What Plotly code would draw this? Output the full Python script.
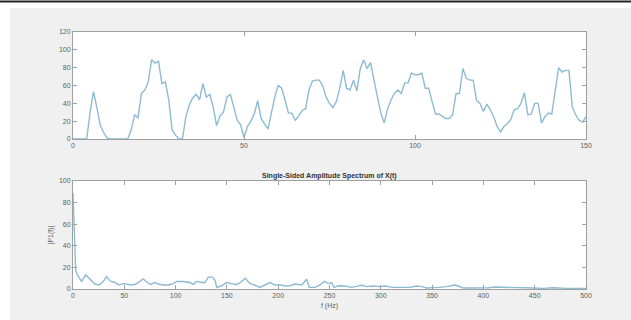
import plotly.graph_objects as go

# Top plot: time-domain signal (t = 0..150)
t_vals = list(range(151))
x_vals = [0, 0, 0, 0, 0, 30, 53, 35, 15, 7, 1, 0, 0, 0, 0, 0, 0,
          10, 27, 24, 51, 55, 64, 89, 85, 87, 62, 64, 44, 10, 4, 0, 0,
          25, 38, 46, 50, 44, 62, 47, 50, 36, 15, 26, 30, 47, 50, 36, 21,
          16, 2, 14, 20, 28, 43, 23, 17, 11, 29, 47, 60, 57, 44, 29, 29,
          21, 26, 32, 34, 55, 65, 66, 66, 60, 47, 40, 35, 42, 57, 77, 57,
          55, 66, 54, 79, 89, 79, 86, 66, 48, 29, 18, 34, 44, 51, 55, 51,
          63, 63, 74, 72, 72, 74, 57, 57, 42, 28, 28, 25, 23, 23, 27, 51,
          51, 79, 68, 66, 66, 43, 40, 31, 39, 33, 25, 14, 8, 14, 17, 22,
          33, 34, 40, 52, 27, 28, 40, 40, 18, 25, 29, 28, 55, 80, 75, 77,
          77, 36, 27, 21, 19, 25]

# Bottom plot: single-sided amplitude spectrum
f_vals = [0, 1.3, 2.6, 4.2, 8.4, 12.3, 16.6, 21.4, 25.3, 29.5, 32.8, 36.7,
          40.9, 44.8, 49, 52.9, 57.2, 61.4, 65.3, 68.5, 72.4, 75.7, 79.9,
          83.2, 88, 92.9, 97.8, 101, 107.5, 114, 117.3, 120.5, 125.4, 128.7,
          131.9, 136.2, 138.4, 140.1, 145, 149.8, 155, 159, 163, 168, 172.5,
          177, 182, 187, 192, 197, 202, 207, 211.5, 216.4, 223, 227.7, 230.3,
          236, 240.7, 245, 249, 252, 254.4, 258.6, 265, 271.6, 276.5, 281.4,
          286.2, 292.7, 299, 304, 312, 318.7, 328.5, 335, 340, 344.7, 351,
          357, 364, 369, 372.3, 375.6, 380.5, 390, 400, 405, 411.3, 419.5,
          429, 439, 449, 458.6, 468, 481.5, 500]
p1_vals = [89, 42, 17.6, 13, 7, 13, 9, 4.6, 3.7, 7, 11.5, 7,
           6, 3.7, 5, 4.6, 3.7, 4.6, 7, 9.4, 6, 4.3, 6,
           4.6, 3.7, 3.7, 5, 7, 7, 6, 4.3, 7, 6, 6,
           11, 11, 8, 1.5, 3, 6, 5, 4, 6, 10, 5,
           3.7, 1.5, 3.7, 6, 3.7, 3.7, 2.8, 3, 4.6, 3.7, 9, 1.5,
           1.5, 3.7, 7, 5, 6, 1.5, 3, 2.8, 1.5, 2.8, 3.4,
           2.2, 2.8, 2.2, 2.8, 1.5, 1.5, 1.5, 2.8, 2.2, 0.9, 0.9,
           1.5, 2.2, 2.8, 3.7, 2.8, 0.9, 0.9, 0.9, 1.2, 1.8, 1.5,
           1.2, 0.6, 0.9, 0.6, 1.2, 0.6, 0.6]

title_text = "Single-Sided Amplitude Spectrum of X(t)"
xlabel_text = "f (Hz)"
ylabel_text = "|P1(f)|"

LINE = "#8dbbd3"
AX = "#a0a0a0"
TXT = "#606060"
W, H = 631, 320
L, R, T, B = 73, 45, 32, 31
PW, PH = W - L - R, H - T - B

def px(xp):
    return (xp - L) / PW

def py(yp):
    return (H - B - yp) / PH

fig = go.Figure()
fig.add_trace(go.Scatter(x=t_vals, y=x_vals, mode="lines",
                         line=dict(color=LINE, width=1.4), xaxis="x", yaxis="y",
                         showlegend=False))
fig.add_trace(go.Scatter(x=f_vals, y=p1_vals, mode="lines",
                         line=dict(color=LINE, width=1.4), xaxis="x2", yaxis="y2",
                         showlegend=False))

axis_common = dict(showline=True, linecolor=AX, linewidth=1, mirror="ticks",
                   ticks="inside", ticklen=4, tickcolor=AX, showgrid=False,
                   zeroline=False, tickfont=dict(size=7, color=TXT),
                   fixedrange=True)

fig.update_layout(
    width=W, height=H,
    margin=dict(l=L, r=R, t=T, b=B, pad=0),
    paper_bgcolor="#f0f0f0", plot_bgcolor="white",
    font=dict(family="Liberation Sans, Arial, sans-serif", size=7, color=TXT),
    xaxis=dict(domain=[0, 1], range=[0, 150], tickvals=[0, 50, 100, 150],
               anchor="y", **axis_common),
    yaxis=dict(domain=[py(139), 1], range=[0, 120],
               tickvals=[0, 20, 40, 60, 80, 100, 120], anchor="x", **axis_common),
    xaxis2=dict(domain=[0, 1], range=[0, 500],
                tickvals=list(range(0, 501, 50)), anchor="y2",
                title=dict(text=xlabel_text, font=dict(size=7, color=TXT), standoff=4),
                **axis_common),
    yaxis2=dict(domain=[0, py(181)], range=[0, 100],
                tickvals=[0, 20, 40, 60, 80, 100], anchor="x2",
                title=dict(text=ylabel_text, font=dict(size=7, color=TXT), standoff=4),
                **axis_common),
    shapes=[
        dict(type="rect", xref="paper", yref="paper", x0=px(-5), x1=px(W + 5),
             y0=py(8), y1=py(-5), fillcolor="white", line=dict(width=0)),
        dict(type="rect", xref="paper", yref="paper", x0=px(-5), x1=px(10),
             y0=py(H + 5), y1=py(-5), fillcolor="white", line=dict(width=0)),
        dict(type="line", xref="paper", yref="paper", x0=px(0), x1=px(W),
             y0=py(1.5), y1=py(1.5), line=dict(color="#222222", width=2)),
    ],
    annotations=[
        dict(text="<b>" + title_text + "</b>", xref="paper", yref="paper",
             x=0.5, y=py(176), showarrow=False, xanchor="center", yanchor="middle",
             font=dict(size=7, color="#333333")),
    ],
)

fig.write_html("out.html", config={"displayModeBar": False},
               post_script="document.body.style.margin='0';document.body.style.overflow='hidden';")
